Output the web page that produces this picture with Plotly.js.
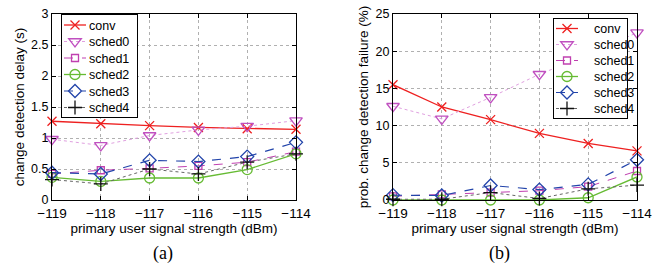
<!DOCTYPE html>
<html><head><meta charset="utf-8">
<script src="https://cdn.plot.ly/plotly-3.0.1.min.js"></script>
<style>html,body{margin:0;padding:0;background:#fff}#c{width:661px;height:272px}</style>
</head><body><div id="c"></div>
<script>
const x = [-119, -118, -117, -116, -115, -114];
const seriesNames = ['conv', 'sched0', 'sched1', 'sched2', 'sched3', 'sched4'];
// (a) change detection delay (s)
const delayConv   = [1.27, 1.23, 1.20, 1.17, 1.15, 1.14];
const delaySched0 = [0.98, 0.88, 1.04, 1.13, 1.19, 1.28];
const delaySched1 = [0.42, 0.48, 0.51, 0.55, 0.61, 0.78];
const delaySched2 = [0.365, 0.30, 0.355, 0.355, 0.49, 0.745];
const delaySched3 = [0.44, 0.42, 0.64, 0.62, 0.70, 0.93];
const delaySched4 = [0.33, 0.26, 0.50, 0.42, 0.61, 0.745];
// (b) prob. change detection failure (%)
const failConv   = [15.5, 12.5, 10.8, 8.95, 7.6, 6.6];
const failSched0 = [12.6, 10.9, 13.8, 16.9, 19.5, 22.5];
const failSched1 = [0.5, 0.75, 1.0, 1.25, 1.8, 3.9];
const failSched2 = [0.0, 0.0, 0.0, 0.0, 0.3, 3.1];
const failSched3 = [0.65, 0.6, 1.95, 1.4, 2.1, 5.4];
const failSched4 = [0.1, 0.1, 1.0, 0.2, 1.5, 2.0];

const styles = [
  {color: '#ee2020', dash: 'solid', width: 1.3, symbol: 'x-thin-open', size: 9},
  {color: '#c050c0', dash: 'dot', width: 1, symbol: 'triangle-down-open', size: 11, lineColor: '#e0a0e0'},
  {color: '#c040b0', dash: 'dash', width: 1, symbol: 'square-open', size: 7},
  {color: '#66bb33', dash: 'solid', width: 1.3, symbol: 'circle-open', size: 10},
  {color: '#2244aa', dash: 'dash', width: 1.2, symbol: 'diamond-open', size: 10},
  {color: '#111111', dash: 'dot', width: 1, symbol: 'cross-thin-open', size: 10, lineColor: '#666'}
];
const dataA = [delayConv, delaySched0, delaySched1, delaySched2, delaySched3, delaySched4];
const dataB = [failConv, failSched0, failSched1, failSched2, failSched3, failSched4];

const traces = [];
function add(ys, xa, ya, leg) {
  ys.forEach((y, i) => {
    const s = styles[i];
    traces.push({
      x: x, y: y, xaxis: xa, yaxis: ya, name: seriesNames[i], legend: leg,
      type: 'scatter', mode: 'lines+markers', cliponaxis: false,
      line: {color: s.lineColor || s.color, dash: s.dash, width: s.width},
      marker: {symbol: s.symbol, size: s.size, color: s.color, line: {color: s.color, width: 1.3}}
    });
  });
}
add(dataA, 'x', 'y', 'legend');
add(dataB, 'x2', 'y2', 'legend2');

const font = {family: 'Liberation Sans, Arial, sans-serif', size: 13, color: '#000'};
const ydom = [1 - 200/272, 1 - 14/272];
function xax(dom, anchor) {
  return {domain: dom, anchor: anchor, range: [-119, -114], tickmode: 'array', tickvals: x,
    ticktext: x.map(v => '\u2212' + Math.abs(v)), ticks: 'inside', ticklen: 4, tickcolor: '#000',
    showline: true, mirror: 'ticks', linecolor: '#000', linewidth: 1,
    showgrid: true, gridcolor: '#b0b0b0', griddash: 'dot', gridwidth: 1, zeroline: false,
    tickfont: {size: 13.5}, ticklabelstandoff: 1,
    title: {text: 'primary user signal strength (dBm)', font: {size: 13.5}, standoff: 0}};
}
function yax(dom, anchor, range, vals, text, title) {
  return {domain: dom, anchor: anchor, range: range, tickmode: 'array', tickvals: vals, ticktext: text,
    ticks: 'inside', ticklen: 4, tickcolor: '#000', showline: true, mirror: 'ticks', linecolor: '#000', linewidth: 1,
    showgrid: true, gridcolor: '#b0b0b0', griddash: 'dot', gridwidth: 1, zeroline: false,
    tickfont: {size: 12.5}, title: {text: title, font: {size: 13.5}, standoff: 3}};
}
const layout = {
  width: 661, height: 272, margin: {l: 0, r: 0, t: 0, b: 0},
  paper_bgcolor: '#fff', plot_bgcolor: '#fff', font: font, showlegend: true,
  xaxis: xax([52/661, 296/661], 'y'),
  yaxis: yax(ydom, 'x', [0, 3], [0, 0.5, 1, 1.5, 2, 2.5, 3], ['0', '0.5', '1', '1.5', '2', '2.5', '3'], 'change detection delay (s)'),
  xaxis2: xax([393/661, 637/661], 'y2'),
  yaxis2: yax(ydom, 'x2', [0, 25], [0, 5, 10, 15, 20, 25], ['0', '5', '10', '15', '20', '25'], 'prob. change detection failure (%)'),
  legend: {x: 61/661, y: 1 - 14/272, xanchor: 'left', yanchor: 'top', bgcolor: '#fff', bordercolor: '#000', borderwidth: 1,
    font: {size: 12.5}, itemwidth: 30, tracegroupgap: 0},
  legend2: {x: 553/661, y: 1 - 18/272, xanchor: 'left', yanchor: 'top', bgcolor: '#fff', bordercolor: '#000', borderwidth: 1,
    font: {size: 12.5}, itemwidth: 30, tracegroupgap: 0},
  annotations: [
    {text: '(a)', xref: 'paper', yref: 'paper', x: 163/661, y: 1 - 253/272, xanchor: 'center', yanchor: 'middle', showarrow: false,
      font: {family: 'Liberation Serif, DejaVu Serif, serif', size: 18}},
    {text: '(b)', xref: 'paper', yref: 'paper', x: 500/661, y: 1 - 253/272, xanchor: 'center', yanchor: 'middle', showarrow: false,
      font: {family: 'Liberation Serif, DejaVu Serif, serif', size: 18}}
  ]
};
// compact legend look (MATLAB style): tighter rows and shorter sample lines
const legendBox = {legend: {w: 77, h: 104, first: 11, step: 16.5}, legend2: {w: 75, h: 101, first: 10.5, step: 16}};
function tidy() {
  Object.keys(legendBox).forEach(id => {
    const cfg = legendBox[id];
    const g = document.querySelector('g.' + id);
    if (!g) return;
    const items = g.querySelectorAll('g.traces');
    items.forEach((it, i) => {
      it.setAttribute('transform', 'translate(1,' + (cfg.first + i * cfg.step) + ')');
      const t = it.querySelector('text.legendtext');
      if (t) { t.setAttribute('x', 27); t.querySelectorAll('tspan').forEach(s => { if (s.hasAttribute('x')) s.setAttribute('x', 27); }); }
      it.querySelectorAll('.legendlines path').forEach(p => p.setAttribute('d', 'M2,0h22'));
      it.querySelectorAll('.legendpoints path').forEach(p => p.setAttribute('transform', 'translate(13,0)'));
    });
    const bg = g.querySelector('rect.bg');
    if (bg) { bg.setAttribute('width', cfg.w - 1); bg.setAttribute('height', cfg.h - 1); }
    // align items to the box, whatever offsets the enclosing groups carry
    const ln = g.querySelector('g.traces .legendlines path');
    if (bg && ln) {
      const b = bg.getBoundingClientRect(), r = ln.getBoundingClientRect();
      const dx = r.left - (b.left + 3);
      if (Math.abs(dx) > 0.5) {
        items.forEach((it, i) => it.setAttribute('transform', 'translate(' + (1 - dx) + ',' + (cfg.first + i * cfg.step) + ')'));
      }
    }
  });
}
Plotly.newPlot('c', traces, layout, {staticPlot: true}).then(() => { tidy(); requestAnimationFrame(tidy); });
</script></body></html>
